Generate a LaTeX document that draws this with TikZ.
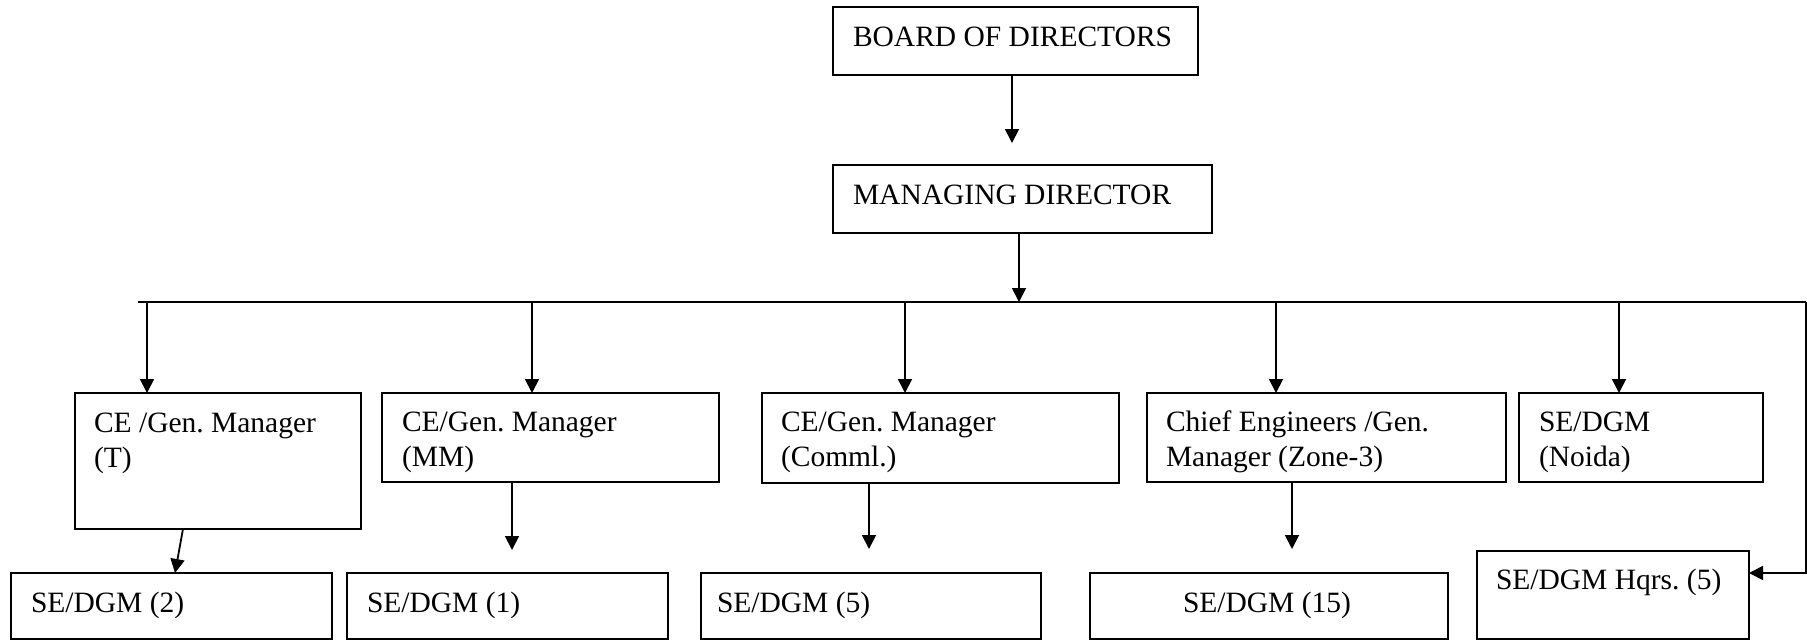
\documentclass[tikz,border=0pt]{standalone}
\usepackage{fontspec}
\setmainfont{Liberation Serif}
\usetikzlibrary{arrows.meta,calc}
\frenchspacing
\tikzset{
  box/.style={draw, line width=1.8pt, rectangle, anchor=north west, inner sep=0pt, outer sep=0pt},
  txt/.style={anchor=base west, inner sep=0pt, outer sep=0pt, font=\fontsize{29.5}{35}\selectfont},
  conn/.style={line width=1.8pt},
  arr/.style={line width=1.8pt, -{Triangle[length=14pt,width=14pt]}}
}
\begin{document}
\begin{tikzpicture}[x=1pt,y=-1pt]
\useasboundingbox (0,0) rectangle (1807,641);
% boxes
\node[box, minimum width=365pt, minimum height=68pt] (bod) at (833,7) {};
\node[box, minimum width=379pt, minimum height=68pt] (md) at (833,165) {};
\node[box, minimum width=286pt, minimum height=136pt] (cT) at (75,393) {};
\node[box, minimum width=337pt, minimum height=89pt] (cMM) at (382,393) {};
\node[box, minimum width=357pt, minimum height=90pt] (cCo) at (762,393) {};
\node[box, minimum width=359pt, minimum height=89pt] (cZ) at (1147,393) {};
\node[box, minimum width=244pt, minimum height=89pt] (cN) at (1519,393) {};
\node[box, minimum width=321pt, minimum height=66pt] (s2) at (11,573) {};
\node[box, minimum width=321pt, minimum height=66pt] (s1) at (347,573) {};
\node[box, minimum width=340pt, minimum height=66pt] (s5) at (701,573) {};
\node[box, minimum width=358pt, minimum height=66pt] (s15) at (1090,573) {};
\node[box, minimum width=272pt, minimum height=88pt] (hq) at (1477,551) {};
% texts
\node[txt] (tbod) at ($(bod.north west)+(20,39)$) {BOARD OF DIRECTORS};
\node[txt] (tmd) at ($(md.north west)+(20,39)$) {MANAGING DIRECTOR};
\node[txt] (tT1) at ($(cT.north west)+(19,39)$) {CE /Gen. Manager};
\node[txt] (tT2) at ($(cT.north west)+(19,74)$) {(T)};
\node[txt] (tMM1) at ($(cMM.north west)+(20,38)$) {CE/Gen. Manager};
\node[txt] (tMM2) at ($(cMM.north west)+(20,73)$) {(MM)};
\node[txt] (tCo1) at ($(cCo.north west)+(19,38)$) {CE/Gen. Manager};
\node[txt] (tCo2) at ($(cCo.north west)+(19,73)$) {(Comml.)};
\node[txt] (tZ1) at ($(cZ.north west)+(19,38)$) {Chief Engineers /Gen.};
\node[txt] (tZ2) at ($(cZ.north west)+(19,73)$) {Manager (Zone-3)};
\node[txt] (tN1) at ($(cN.north west)+(20,38)$) {SE/DGM};
\node[txt] (tN2) at ($(cN.north west)+(20,73)$) {(Noida)};
\node[txt] (ts2) at ($(s2.north west)+(20,39)$) {SE/DGM (2)};
\node[txt] (ts1) at ($(s1.north west)+(20,39)$) {SE/DGM (1)};
\node[txt] (ts5) at ($(s5.north west)+(16,39)$) {SE/DGM (5)};
\node[txt] (ts15) at ($(s15.north west)+(93,39)$) {SE/DGM (15)};
\node[txt] (thq) at ($(hq.north west)+(19,38)$) {SE/DGM Hqrs. (5)};
% connectors
\coordinate (bodtip) at (1012,143);
\coordinate (busL) at (138,302);
\coordinate (busR) at (1806,302);
\draw[arr] (bod.south -| bodtip) -- (bodtip);
\draw[arr] (md.south -| 1019,0) -- (1019,302);
\draw[conn] (busL) -- (busR);
\draw[arr] (busL -| 147,0) -- (cT.north -| 147,0);
\draw[arr] (busL -| 532,0) -- (cMM.north -| 532,0);
\draw[arr] (busL -| 905,0) -- (cCo.north -| 905,0);
\draw[arr] (busL -| 1276,0) -- (cZ.north -| 1276,0);
\draw[arr] (busL -| 1619,0) -- (cN.north -| 1619,0);
\draw[arr] (busR) |- ($(hq.north east)+(0,22)$);
\draw[arr] ($(cT.south west)+(108,0)$) -- ($(s2.north west)+(164,0)$);
\coordinate (mmtip) at (512,550);
\coordinate (cotip) at (869,549);
\coordinate (ztip) at (1292,549);
\draw[arr] (cMM.south -| mmtip) -- (mmtip);
\draw[arr] (cCo.south -| cotip) -- (cotip);
\draw[arr] (cZ.south -| ztip) -- (ztip);
\end{tikzpicture}
\end{document}
